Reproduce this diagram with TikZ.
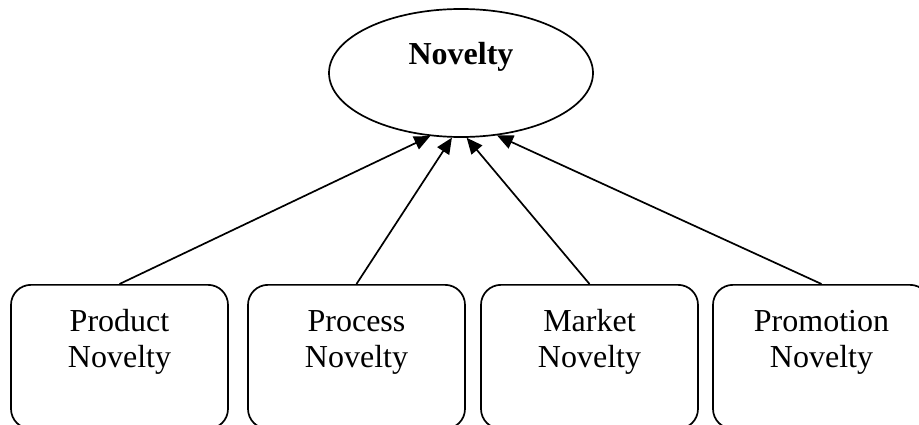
\documentclass[tikz,border=0pt]{standalone}
\usepackage{fontspec}
\setmainfont{Liberation Serif}
\usetikzlibrary{shapes.geometric,arrows.meta}
\tikzset{
  kind/.style={draw, line width=1.7pt, rounded corners=20pt, minimum width=217pt,
    minimum height=144pt, inner sep=0pt, anchor=north},
  kindtext/.style={anchor=base, align=center, inner sep=0pt,
    font=\fontsize{32}{36}\selectfont},
  link/.style={-{Triangle[length=16pt,width=14pt]}, line width=1.7pt}
}
\begin{document}
\begin{tikzpicture}[x=1pt, y=-1pt]
  \useasboundingbox (0,0) rectangle (919,425);
  % top concept
  \node[draw, line width=1.7pt, ellipse, minimum width=264pt, minimum height=128pt,
    inner sep=0pt] (nov) at (461,73) {};
  \node[anchor=base, inner sep=0pt, font=\fontsize{32}{36}\selectfont\bfseries]
    (novtxt) at (461,65) {Novelty};
  % the four kinds of novelty
  \node[kind] (prod) at (119.5,284) {};
  \node[kind] (proc) at (356.5,284) {};
  \node[kind] (mark) at (589.5,284) {};
  \node[kind] (prom) at (821.5,284) {};
  % labels: the base anchor sits on the second line
  \node[kindtext] (prodtxt) at (119.5,367) {Product\\Novelty};
  \node[kindtext] (proctxt) at (356.5,367) {Process\\Novelty};
  \node[kindtext] (marktxt) at (589.5,367) {Market\\Novelty};
  \node[kindtext] (promtxt) at (821.5,367) {Promotion\\Novelty};
  % arrows into the ellipse
  \draw[link] (prod.north) -- (nov.244.5);
  \draw[link] (proc.north) -- (nov.262.5);
  \draw[link] (mark.north) -- (nov.275);
  \draw[link] (prom.north) -- (nov.300);
\end{tikzpicture}
\end{document}
